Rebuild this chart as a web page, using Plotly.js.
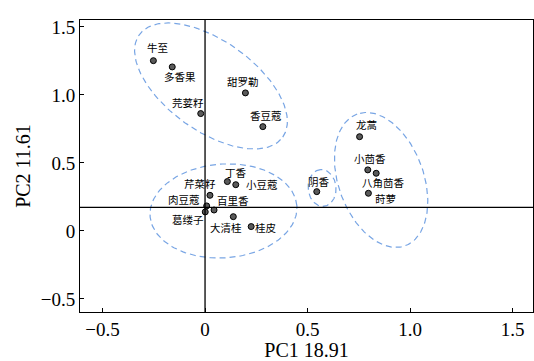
<!DOCTYPE html>
<html><head><meta charset="utf-8">
<script src="https://cdn.plot.ly/plotly-3.0.1.min.js"></script>
<style>html,body{margin:0;padding:0;background:#fff}</style>
</head><body><div id="chart" style="width:534px;height:361px"></div>
<script>
// ---- data ----
const names = ["牛至","多香果","芫荽籽","甜罗勒","香豆蔻","丁香","小豆蔻","芹菜籽","肉豆蔻","百里香","葛缕子","大清桂","桂皮","阴香","龙蒿","小茴香","八角茴香","莳萝"];
const pc1 = [-0.252,-0.160,-0.021,0.197,0.282,0.109,0.150,0.024,0.008,0.044,0.001,0.138,0.225,0.545,0.754,0.794,0.835,0.797];
const pc2 = [1.252,1.206,0.863,1.015,0.767,0.363,0.340,0.262,0.184,0.154,0.140,0.105,0.032,0.289,0.693,0.449,0.424,0.277];
// label offsets in px (dx right, dy down)
const labelDx = [4,8,-13,-2,3,9,26,-10,-23,19,-17,-7,15,2,7,2,7,17];
const labelDy = [-13,10,-11,-11,-11,-9,0,-12,-6,-10,8,11,1,-10,-12,-11,9,5];
// group ellipses: center, semi-axes (x units), rotation (deg)
const ellCx = [0.029,0.090,0.571,0.859];
const ellCy = [1.066,0.147,0.316,0.375];
const ellA = [0.430,0.359,0.090,0.342];
const ellB = [0.220,0.229,0.068,0.208];
const ellAng = [-35.5,4,95,110];
const xTicks = [-0.5,0,0.5,1.0,1.5];
const xTickText = ["\u22120.5","0","0.5","1.0","1.5"];
const yTicks = [-0.5,0,0.5,1.0,1.5];
const yTickText = ["\u22120.5","0","0.5","1.0","1.5"];
const xRange = [-0.61,1.60];
const yRange = [-0.596,1.551];
const hLineY = 0.174;
const vLineX = 0;

const W=534,H=361,ml=80,mr=1,mt=20,mb=49;
const kx=(W-ml-mr)/(xRange[1]-xRange[0]);
const ky=(H-mt-mb)/(yRange[1]-yRange[0]);
const ratio=kx/ky;

const traces=[];
for(let i=0;i<ellCx.length;i++){
  const xs=[],ys=[];const th=ellAng[i]*Math.PI/180;
  for(let k=0;k<=200;k++){
    const t=2*Math.PI*k/200;
    const ux=ellA[i]*Math.cos(t)*Math.cos(th)-ellB[i]*Math.sin(t)*Math.sin(th);
    const uy=ellA[i]*Math.cos(t)*Math.sin(th)+ellB[i]*Math.sin(t)*Math.cos(th);
    xs.push(ellCx[i]+ux);ys.push(ellCy[i]+uy*ratio);
  }
  traces.push({x:xs,y:ys,mode:'lines',type:'scatter',hoverinfo:'skip',
    line:{color:'rgb(120,165,228)',width:1.2,dash:'6px,4px'}});
}
traces.push({x:pc1,y:pc2,mode:'markers',type:'scatter',
  marker:{size:6,color:'#5a5a5a',line:{color:'#000',width:1}}});

const annotations=names.map((n,i)=>({x:pc1[i],y:pc2[i],text:n,showarrow:false,
  xshift:labelDx[i],yshift:-labelDy[i],borderpad:0,
  font:{family:'Noto Sans CJK SC',size:10.5,color:'#000'}}));

const axisCommon={showgrid:false,zeroline:false,showline:true,linecolor:'#000',linewidth:1,
  mirror:true,ticks:'inside',ticklen:4,tickcolor:'#000',
  tickfont:{family:'Liberation Serif',size:19,color:'#000'}};

const layout={width:W,height:H,margin:{l:ml,r:mr,t:mt,b:mb},
  paper_bgcolor:'#fff',plot_bgcolor:'#fff',showlegend:false,
  xaxis:Object.assign({},axisCommon,{range:xRange,tickvals:xTicks,ticktext:xTickText,
    title:{text:'PC1 18.91',font:{family:'Liberation Serif',size:20,color:'#000'},standoff:2}}),
  yaxis:Object.assign({},axisCommon,{range:yRange,tickvals:yTicks,ticktext:yTickText,
    title:{text:'PC2 11.61',font:{family:'Liberation Serif',size:20,color:'#000'},standoff:4}}),
  shapes:[
    {type:'line',xref:'x',yref:'paper',x0:vLineX,x1:vLineX,y0:0,y1:1,line:{color:'#000',width:1.3}},
    {type:'line',xref:'paper',yref:'y',x0:0,x1:1,y0:hLineY,y1:hLineY,line:{color:'#000',width:1.3}}
  ],
  annotations:annotations};
Plotly.newPlot('chart',traces,layout,{staticPlot:true});
</script></body></html>
